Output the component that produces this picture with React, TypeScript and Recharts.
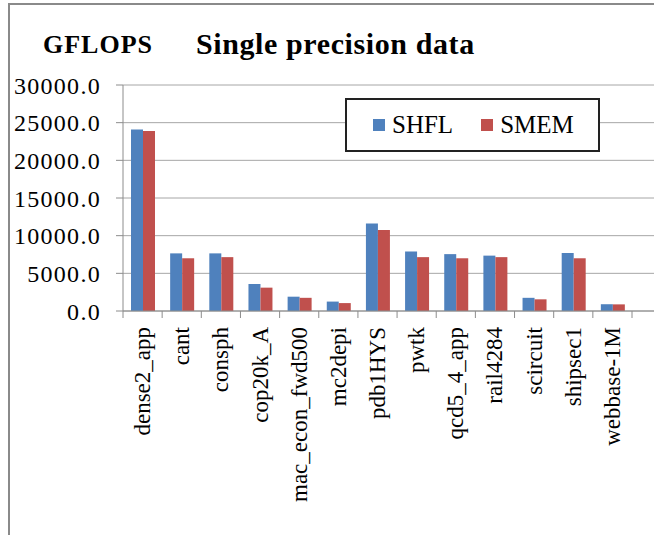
import React from "react";
import { Bar, BarChart, CartesianGrid, Legend, XAxis, YAxis } from "recharts";

const categories = [
  "dense2_app", "cant", "consph", "cop20k_A", "mac_econ_fwd500", "mc2depi", "pdb1HYS",
  "pwtk", "qcd5_4_app", "rail4284", "scircuit", "shipsec1", "webbase-1M",
];
const shfl = [24100, 7650, 7650, 3600, 1900, 1250, 11600, 7900, 7550, 7350, 1750, 7700, 900];
const smem = [23900, 7000, 7150, 3100, 1750, 1050, 10750, 7150, 7000, 7150, 1550, 7000, 880];
const yTicks = [0, 5000, 10000, 15000, 20000, 25000, 30000];

const data = categories.map((name, i) => ({ name, SHFL: shfl[i], SMEM: smem[i] }));

const font = "'Liberation Serif', 'Times New Roman', serif";
const axisGrey = "#8c8c8c";

const CategoryTick = (props: any) => {
  const { x, y, payload, index, visibleTicksCount } = props;
  const half = payload.offset || 0;
  return (
    <g>
      <line x1={x - half} x2={x - half} y1={y - 9} y2={y - 2} stroke={axisGrey} />
      {index === visibleTicksCount - 1 && (
        <line x1={x + half} x2={x + half} y1={y - 9} y2={y - 2} stroke={axisGrey} />
      )}
      <text
        transform={`translate(${x},${y + 7}) rotate(-90)`}
        textAnchor="end"
        dominantBaseline="central"
        fontFamily={font}
        fontSize={23}
        fill="#000"
      >
        {payload.value}
      </text>
    </g>
  );
};

const LegendBox = (props: any) => (
  <div
    style={{
      boxSizing: "border-box",
      width: 255,
      height: 54,
      border: "2px solid #222",
      background: "#fff",
      display: "flex",
      alignItems: "center",
      paddingLeft: 26,
      fontFamily: font,
      fontSize: 25,
      color: "#000",
    }}
  >
    {(props.payload || []).map((p: any, i: number) => (
      <span key={i} style={{ display: "flex", alignItems: "center", marginRight: 28 }}>
        <span style={{ display: "inline-block", width: 12, height: 12, background: p.color, marginRight: 7 }} />
        {p.value}
      </span>
    ))}
  </div>
);

export default function App() {
  return (
    <div style={{ position: "absolute", left: 0, top: 0, width: 654, height: 535, background: "#fff", overflow: "hidden" }}>
      <div style={{ position: "absolute", left: 8, top: 3, width: 660, height: 540, borderLeft: "2px solid #8a8a8a", borderTop: "2px solid #8a8a8a" }} />
      <div style={{ position: "absolute", left: 43, top: 30, fontFamily: font, fontWeight: "bold", fontSize: 26, letterSpacing: 1 }}>
        GFLOPS
      </div>
      <div style={{ position: "absolute", left: 196, top: 27, fontFamily: font, fontWeight: "bold", fontSize: 30, letterSpacing: 0.6 }}>
        Single precision data
      </div>
      <div style={{ position: "absolute", left: 0, top: 0 }}>
        <BarChart
          width={654}
          height={535}
          data={data}
          margin={{ top: 85, right: 0, bottom: 0, left: 0 }}
          barGap={0}
          barSize={12}
        >
          <CartesianGrid vertical={false} stroke="#a6a6a6" />
          <XAxis
            dataKey="name"
            interval={0}
            height={224}
            padding={{ left: 0, right: 22 }}
            tickLine={false}
            tickSize={7}
            tickMargin={2}
            axisLine={{ stroke: axisGrey }}
            tick={<CategoryTick />}
          />
          <YAxis
            width={123}
            domain={[0, 30000]}
            ticks={yTicks}
            tickFormatter={(v: number) => v.toFixed(1)}
            tickSize={7}
            tickMargin={15}
            axisLine={{ stroke: axisGrey }}
            tickLine={{ stroke: axisGrey }}
            tick={{ fontFamily: font, fontSize: 24, fill: "#000", letterSpacing: 1.3 }}
          />
          <Legend
            layout="horizontal"
            verticalAlign="middle"
            align="center"
            wrapperStyle={{ position: "absolute", left: 345, top: 98, width: 255, height: 54 }}
            content={<LegendBox />}
          />
          <Bar dataKey="SHFL" fill="#4f81bd" isAnimationActive={false} />
          <Bar dataKey="SMEM" fill="#c0504d" isAnimationActive={false} />
        </BarChart>
      </div>
    </div>
  );
}
